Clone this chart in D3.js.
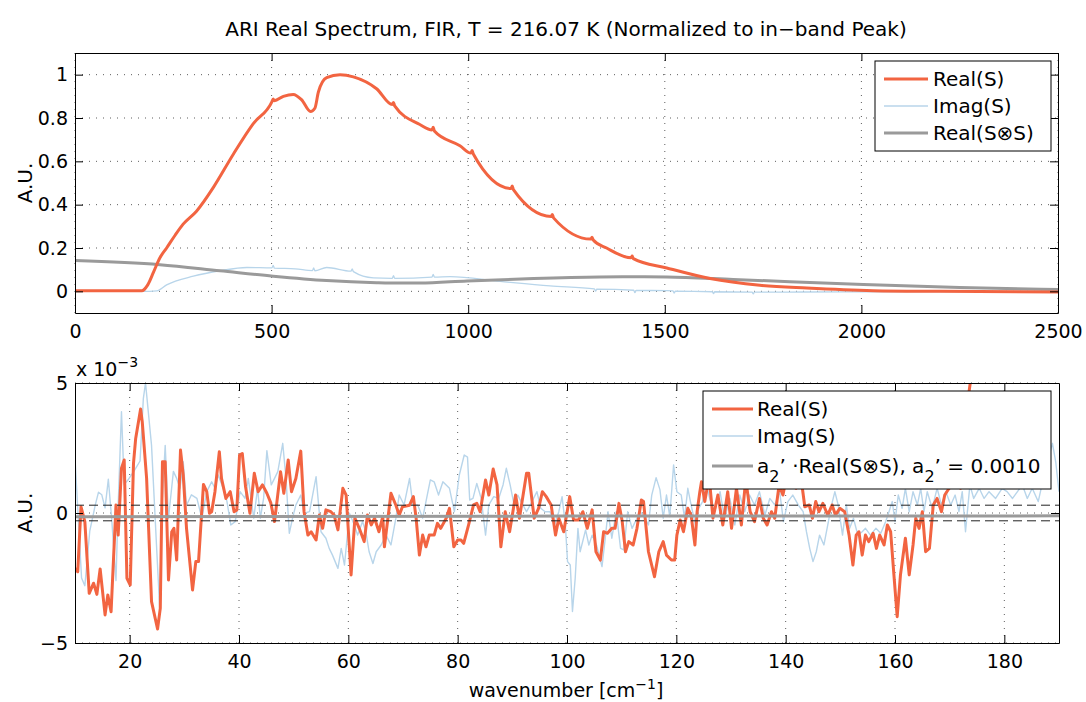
<!DOCTYPE html>
<html>
<head>
<meta charset="utf-8">
<script src="https://cdn.jsdelivr.net/npm/d3@7"></script>
<style>
body { margin: 0; background: #fff; }
svg text { font-family: "DejaVu Sans", Arial, sans-serif; fill: #000; }
</style>
</head>
<body>
<svg width="1086" height="702"></svg>
<script>
// top panel, normalized spectrum (x = wavenumber cm-1)
var topRealWn = [0, 100, 170, 185, 200, 216, 233, 255, 275, 309, 352, 403, 453, 501, 504, 507, 530, 555, 576, 599, 610, 619, 640, 674, 708, 767, 807, 810, 813, 877, 908, 911, 914, 979, 1007, 1010, 1013, 1109, 1112, 1115, 1211, 1214, 1217, 1312, 1315, 1318, 1352, 1414, 1417, 1420, 1505, 1615, 1742, 1861, 2030, 2200, 2500];
var topRealVal = [0.003, 0.003, 0.003, 0.03, 0.09, 0.155, 0.2, 0.26, 0.31, 0.37, 0.48, 0.634, 0.773, 0.876, 0.888, 0.88, 0.9, 0.909, 0.885, 0.83, 0.845, 0.92, 0.986, 1.0, 0.99, 0.935, 0.862, 0.872, 0.856, 0.77, 0.745, 0.757, 0.74, 0.672, 0.638, 0.65, 0.634, 0.475, 0.486, 0.469, 0.345, 0.355, 0.339, 0.241, 0.25, 0.237, 0.2, 0.155, 0.163, 0.151, 0.108, 0.059, 0.028, 0.015, 0.003, 0.0, -0.003];

var topImagWn = [0, 190, 208, 233, 301, 369, 437, 501, 504, 507, 560, 604, 607, 610, 640, 702, 705, 708, 759, 807, 810, 813, 908, 911, 914, 954, 1081, 1208, 1321, 1324, 1327, 1421, 1424, 1427, 1505, 1521, 1524, 1527, 1621, 1624, 1627, 1722, 1725, 1728, 1850, 2000, 2500];
var topImagVal = [0, 0, 0.002, 0.03, 0.07, 0.095, 0.11, 0.108, 0.12, 0.107, 0.104, 0.096, 0.108, 0.095, 0.11, 0.093, 0.104, 0.091, 0.062, 0.06, 0.072, 0.06, 0.066, 0.078, 0.066, 0.068, 0.046, 0.025, 0.011, 0.001, 0.01, 0.005, -0.006, 0.004, 0.003, 0.002, -0.008, 0.001, -0.002, -0.01, -0.002, -0.004, -0.012, -0.004, -0.003, -0.002, 0.0];

var topConvWn = [0, 216, 369, 504, 640, 767, 827, 877, 997, 1166, 1335, 1420, 1505, 1674, 2005, 2250, 2500];
var topConvVal = [0.142, 0.123, 0.095, 0.07, 0.05, 0.04, 0.038, 0.038, 0.048, 0.059, 0.066, 0.067, 0.066, 0.055, 0.031, 0.018, 0.008];

// bottom panel, residuals in units of 1e-3
var botRealWn = [10.0, 10.5, 11.1, 11.8, 12.6, 13.4, 14.0, 14.6, 15.5, 16.0, 16.6, 17.5, 17.9, 18.5, 19.0, 19.5, 20.1, 20.7, 21.1, 22.0, 22.3, 23.1, 24.0, 25.1, 25.6, 26.0, 26.5, 27.1, 27.7, 28.1, 28.6, 29.3, 29.8, 30.4, 31.5, 32.1, 32.6, 33.5, 34.1, 34.6, 35.0, 35.6, 36.4, 36.8, 37.6, 38.4, 39.1, 39.6, 40.1, 40.6, 41.2, 42.0, 42.8, 43.5, 44.3, 45.1, 45.8, 46.5, 47.6, 48.2, 49.0, 49.6, 50.4, 51.3, 51.9, 52.6, 53.2, 54.1, 54.7, 55.3, 55.9, 56.8, 57.4, 58.1, 59.0, 59.6, 60.5, 61.2, 62.0, 62.9, 63.5, 64.2, 64.8, 65.6, 66.3, 66.6, 67.8, 68.7, 69.3, 69.9, 71.2, 71.9, 72.4, 73.0, 73.6, 74.2, 74.8, 75.7, 76.3, 76.9, 77.9, 78.5, 79.3, 80.0, 80.6, 81.1, 82.0, 82.9, 83.5, 84.1, 85.1, 85.7, 86.5, 87.2, 87.9, 88.7, 89.5, 90.6, 91.3, 92.6, 93.0, 94.0, 94.8, 95.5, 96.2, 97.1, 97.9, 98.5, 99.4, 100.5, 101.2, 102.1, 102.9, 103.7, 104.6, 105.3, 106.1, 106.7, 107.4, 108.2, 108.8, 109.5, 110.1, 110.7, 111.3, 112.1, 112.8, 113.6, 114.0, 114.9, 116.0, 116.8, 117.6, 118.2, 119.1, 119.7, 120.1, 120.7, 121.3, 122.1, 122.7, 123.4, 123.8, 124.3, 124.6, 125.2, 126.0, 126.7, 127.6, 128.5, 129.4, 130.1, 131.0, 131.9, 132.7, 133.5, 134.3, 135.2, 135.9, 136.6, 137.4, 138.0, 138.8, 139.5, 140.1, 141.0, 141.9, 142.9, 143.5, 144.3, 144.9, 145.5, 146.1, 146.8, 147.7, 148.5, 149.1, 149.9, 150.8, 151.6, 152.3, 152.9, 153.4, 154.0, 154.6, 155.2, 156.0, 156.6, 157.2, 158.0, 158.6, 159.2, 159.8, 160.4, 161.0, 161.9, 162.6, 163.3, 163.8, 164.4, 165.0, 165.6, 166.3, 167.0, 167.7, 168.5, 169.1, 169.9, 170.6, 171.4, 172.0, 172.6, 173.2, 173.8, 174.6];
var botRealVal = [-2.13, -2.26, 0.24, -0.33, -3.09, -2.7, -3.13, -2.15, -3.92, -3.15, -3.8, 0.31, -0.85, 1.72, 2.04, -2.51, -2.77, 1.91, 2.87, 4.0, 3.51, 1.33, -3.41, -4.46, -3.67, 1.97, 1.97, -2.58, -0.72, -0.59, -1.81, 2.42, 1.46, -0.59, -2.96, -1.87, -1.87, 1.1, 0.82, -0.01, 0.05, 0.82, 2.36, 1.33, 0.56, 0.82, 0.05, 0.12, 2.23, 2.29, 1.01, -0.01, 1.53, 0.82, 1.08, 0.76, 0.4, -0.33, 1.59, 0.76, 2.04, 0.82, 1.33, 2.38, 0.05, -0.85, -0.72, -1.04, -0.08, -0.59, 0.12, 0.05, -0.08, -0.65, 0.95, 0.69, -2.38, -0.2, -0.59, -1.1, -0.08, -0.46, -0.2, -0.72, -0.14, -1.3, 0.76, 0.3, -0.08, 0.24, 0.3, 0.63, -0.2, -1.62, -0.85, -1.3, -0.85, -0.85, -0.4, -0.59, -0.2, 0.18, -1.3, -1.04, -1.04, -1.17, -0.46, 0.31, 0.37, 0.05, 1.27, 0.69, 1.69, 1.08, -1.3, 0.05, -0.72, 0.69, -0.2, 1.53, 1.53, -0.2, 0.18, 0.82, 0.63, 0.31, -0.85, -0.2, -0.72, 0.63, -0.27, -0.27, 0.05, -0.59, 0.12, -1.49, -1.81, -0.72, -0.78, -0.59, -0.59, 0.37, -0.33, -1.49, -1.1, -1.23, -0.59, 0.5, 0.44, -1.49, -2.45, -1.49, -1.1, -1.62, -1.81, -1.81, -0.85, -0.27, -0.72, 0.18, -0.08, -1.23, 0.05, 0.82, 1.2, 0.44, 1.4, -0.2, 0.69, -0.46, 0.82, -0.59, 0.95, -0.46, 1.3, 0.05, -0.33, 0.56, -0.2, -0.46, 0.05, -0.2, 1.08, 0.69, 1.33, 1.08, 0.95, 1.2, 0.24, 0.31, -0.2, 0.44, 0.05, 0.37, -0.08, 0.31, -0.08, 0.18, 0.05, -0.85, -2.0, -0.85, -0.72, -1.62, -0.85, -1.1, -0.78, -1.36, -0.85, -1.23, -0.46, -0.72, -2.38, -3.99, -2.38, -0.97, -2.38, -1.23, -0.2, -0.59, 0.05, -1.49, -1.36, 0.31, 0.56, 0.05, 0.69, 0.95, 1.08, 1.6, 0.95, 2.0, 4.15, 5.05, 6.2];

var botImagWn = [10.0, 10.6, 11.2, 11.8, 12.7, 13.7, 14.3, 14.9, 15.5, 16.1, 16.7, 17.5, 17.9, 18.5, 19.0, 19.8, 20.9, 21.9, 22.5, 22.9, 24.0, 24.9, 25.5, 25.9, 26.5, 27.1, 28.0, 28.6, 29.2, 29.8, 30.4, 31.3, 32.3, 33.2, 34.1, 35.0, 35.6, 36.2, 37.1, 37.8, 38.5, 39.3, 40.2, 41.1, 41.7, 42.7, 43.4, 43.9, 44.5, 45.1, 45.9, 46.5, 47.1, 48.0, 48.6, 49.2, 49.8, 50.4, 51.3, 51.9, 52.9, 54.1, 55.0, 55.9, 56.5, 57.1, 58.1, 58.7, 59.3, 60.2, 61.1, 61.7, 62.6, 63.2, 63.8, 64.5, 65.1, 66.0, 66.9, 67.8, 68.7, 69.3, 70.2, 71.2, 71.8, 72.7, 73.6, 74.2, 75.0, 75.7, 76.5, 77.3, 78.5, 79.4, 80.3, 81.2, 81.8, 82.2, 82.8, 83.5, 84.3, 85.1, 85.7, 86.6, 87.5, 88.3, 88.9, 89.6, 90.2, 91.0, 91.6, 92.6, 93.6, 94.5, 95.2, 96.0, 96.9, 97.7, 98.5, 99.1, 99.7, 100.1, 100.6, 101.0, 101.5, 102.0, 102.4, 103.4, 104.0, 104.6, 105.4, 106.4, 107.0, 107.5, 108.2, 109.0, 109.8, 110.4, 111.1, 111.9, 112.5, 113.4, 114.3, 114.9, 115.5, 116.3, 117.0, 117.6, 118.2, 118.8, 119.5, 120.1, 120.9, 121.5, 122.1, 122.7, 123.5, 124.1, 124.8, 125.4, 126.1, 127.0, 128.0, 128.8, 129.8, 130.7, 131.6, 132.5, 133.4, 134.3, 135.2, 136.2, 137.1, 138.0, 138.9, 139.6, 140.4, 141.3, 142.3, 143.2, 143.8, 144.4, 145.0, 145.6, 146.2, 147.0, 147.7, 148.4, 149.0, 149.6, 150.4, 151.1, 151.7, 152.4, 153.2, 154.0, 154.6, 155.5, 156.5, 157.4, 158.3, 158.9, 159.5, 160.0, 160.6, 161.3, 161.9, 162.6, 163.3, 164.1, 164.7, 165.3, 165.9, 166.8, 167.7, 168.5, 169.3, 170.2, 171.0, 171.7, 172.3, 172.9, 173.7, 174.4, 175.4, 176.3, 177.2, 178.4, 179.6, 180.5, 181.5, 182.4, 183.3, 184.2, 185.1, 186.2, 187.0, 187.9, 188.8, 189.4, 190.0];
var botImagVal = [2.1, -0.2, -2.5, -2.8, -0.7, 0.3, 0.8, 0.7, 0.2, 1.3, -0.2, -2.6, 0.3, 3.9, 1.1, 1.3, 1.65, 2.0, 4.4, 5.0, 2.6, -1.2, -3.7, 0.3, 2.6, -0.2, 1.6, 1.33, 0.95, 1.97, 0.3, 0.7, 0.56, -0.2, 0.82, 1.2, 0.95, 1.46, 0.95, 0.44, -0.46, -0.33, 0.82, 0.56, 1.33, -0.2, 0.95, -0.2, 0.56, 2.4, 1.08, 1.33, 1.59, 2.68, 1.33, -0.78, -0.2, 0.31, 0.69, -0.01, 0.05, 1.4, -0.72, -0.97, -1.36, -1.62, -2.13, -1.36, -2.0, -0.01, -0.46, -0.85, -0.33, -0.72, -1.49, -1.94, -1.49, -1.23, -0.85, -1.23, -0.2, 0.69, 0.31, 1.33, 0.31, 0.31, -0.2, 0.44, 1.27, 1.2, 0.69, 1.2, 0.95, 0.05, 1.46, 2.23, 2.15, 0.5, 0.56, 1.14, 0.56, -0.85, 0.31, 0.63, 0.56, 1.08, 1.72, 1.08, 0.44, 0.69, 0.44, 0.05, 0.44, 0.82, 0.18, 0.05, 0.05, -0.46, 0.05, 0.63, -0.46, -1.87, -2.0, -3.79, -2.51, -0.59, -1.49, -0.65, -1.23, -0.85, -1.23, -2.06, -0.97, 0.05, -0.97, 0.05, -1.36, -1.42, 0.05, -0.59, -0.33, 0.05, -0.2, -0.46, 0.69, 1.36, 0.9, -0.2, 0.69, -0.14, 1.85, 0.82, 0.69, -0.2, 0.95, 0.31, -0.46, 0.18, 0.44, 1.2, 0.56, 0.05, 0.82, -0.2, 0.56, -0.46, 0.69, 0.05, 0.69, 0.31, 0.82, -0.08, 0.56, 0.31, 0.82, -0.33, 0.44, 0.69, 0.31, 0.05, -0.72, -1.36, -1.87, -1.49, -0.85, -1.23, -0.46, 0.31, 0.82, 0.31, -0.85, 0.31, -0.59, -0.2, -0.85, -0.72, -0.59, -0.85, -0.59, -0.78, -0.33, 0.05, 0.44, -0.33, 0.69, 0.18, 0.95, 0.05, 0.82, 0.31, 0.95, 0.05, 0.82, 0.18, 0.95, 0.31, 0.82, 0.31, 0.69, 0.05, 0.82, -0.72, 1.08, 0.56, 0.95, 0.56, 0.82, 0.56, 0.95, 0.82, 0.56, 0.82, 1.08, 0.56, 0.95, 0.44, 1.2, 1.97, 2.68, 1.97, 0.82];

var botConvWn = [10, 100, 190];
var botConvVal = [-0.14, -0.12, -0.11];

var bandLevels = [0.3, -0.3];

var topXTicks = [0, 500, 1000, 1500, 2000, 2500];
var topYTicks = [0, 0.2, 0.4, 0.6, 0.8, 1];
var botXTicks = [20, 40, 60, 80, 100, 120, 140, 160, 180];
var botYTicks = [-5, 0, 5];

var topLegend = ['Real(S)', 'Imag(S)', 'Real(S\u2297S)'];

var realColor = '#F26441', imagColor = '#B8D5EA', convColor = '#9A9A9A';

var svg = d3.select('svg');
svg.append('rect').attr('width', 1086).attr('height', 702).attr('fill', '#fff');

var xTop = d3.scaleLinear().domain([0, 2500]).range([75, 1058]);
var yTop = d3.scaleLinear().domain([-0.1, 1.1]).range([313, 53]);
var xBot = d3.scaleLinear().domain([10, 190]).range([75, 1059]);
var yBot = d3.scaleLinear().domain([-5, 5]).range([643, 383]);

function numFmt(d) {
  var s = String(+d.toFixed(2));
  return d < 0 ? '\u2212' + s.slice(1) : s;
}

function grid(x, y, xTicks, yTicks) {
  var g = svg.append('g').attr('stroke', '#333').attr('stroke-width', 0.8).attr('stroke-dasharray', '1,6');
  g.selectAll('.v').data(xTicks).enter().append('line')
    .attr('x1', x).attr('x2', x).attr('y1', y.range()[1]).attr('y2', y.range()[0]);
  g.selectAll('.h').data(yTicks).enter().append('line')
    .attr('y1', y).attr('y2', y).attr('x1', x.range()[0]).attr('x2', x.range()[1]);
}

function clip(id, x, y) {
  svg.append('clipPath').attr('id', id).append('rect')
    .attr('x', x.range()[0]).attr('y', y.range()[1])
    .attr('width', x.range()[1] - x.range()[0]).attr('height', y.range()[0] - y.range()[1]);
}

function series(x, y, wn, val, color, width, curve, clipId) {
  var line = d3.line()
    .x(function(d) { return x(d[0]); })
    .y(function(d) { return y(d[1]); })
    .curve(curve);
  svg.append('path')
    .attr('clip-path', 'url(#' + clipId + ')')
    .attr('d', line(d3.zip(wn, val)))
    .attr('fill', 'none')
    .attr('stroke', color)
    .attr('stroke-width', width)
    .attr('stroke-linejoin', 'round');
}

function styleAxis(g) {
  g.attr('font-family', null).attr('font-size', null);
  g.selectAll('.domain').attr('stroke', '#000').attr('stroke-width', 1);
  g.selectAll('.tick line').attr('stroke', '#000');
  g.selectAll('.tick text').attr('font-size', 19).attr('fill', '#000');
}

function axes(x, y, xTicks, yTicks) {
  var l = x.range()[0], r = x.range()[1], t = y.range()[1], b = y.range()[0];
  svg.append('g').attr('transform', 'translate(0,' + b + ')')
    .call(d3.axisBottom(x).tickValues(xTicks).tickSizeInner(-8).tickSizeOuter(0).tickPadding(12).tickFormat(numFmt))
    .call(styleAxis);
  svg.append('g').attr('transform', 'translate(0,' + t + ')')
    .call(d3.axisTop(x).tickValues(xTicks).tickSizeInner(-8).tickSizeOuter(0).tickFormat(''))
    .call(styleAxis);
  svg.append('g').attr('transform', 'translate(' + l + ',0)')
    .call(d3.axisLeft(y).tickValues(yTicks).tickSizeInner(-8).tickSizeOuter(0).tickPadding(7).tickFormat(numFmt))
    .call(styleAxis);
  svg.append('g').attr('transform', 'translate(' + r + ',0)')
    .call(d3.axisRight(y).tickValues(yTicks).tickSizeInner(-8).tickSizeOuter(0).tickFormat(''))
    .call(styleAxis);
}

function legendBox(x0, y0, w, h, rows, lineX0, lineX1, textX) {
  svg.append('rect').attr('x', x0).attr('y', y0).attr('width', w).attr('height', h)
    .attr('fill', '#fff').attr('stroke', '#000').attr('stroke-width', 1);
  rows.forEach(function(r) {
    svg.append('line').attr('x1', lineX0).attr('x2', lineX1).attr('y1', r.y).attr('y2', r.y)
      .attr('stroke', r.color).attr('stroke-width', r.width);
    var t = svg.append('text').attr('x', textX).attr('y', r.y + 7).attr('font-size', 20);
    r.parts.forEach(function(p) {
      var s = t.append('tspan').text(p.text);
      if (p.sub) s.attr('font-size', 16).attr('dy', 9);
      if (p.after) s.attr('dy', -9);
    });
  });
}

// ---- top panel
clip('clipTop', xTop, yTop);
grid(xTop, yTop, topXTicks, topYTicks);
series(xTop, yTop, topImagWn, topImagVal, imagColor, 1.3, d3.curveMonotoneX, 'clipTop');
series(xTop, yTop, topConvWn, topConvVal, convColor, 3, d3.curveMonotoneX, 'clipTop');
series(xTop, yTop, topRealWn, topRealVal, realColor, 3, d3.curveMonotoneX, 'clipTop');
axes(xTop, yTop, topXTicks, topYTicks);

legendBox(875, 61, 176, 90, [
  {y: 79, color: realColor, width: 3, parts: [{text: topLegend[0]}]},
  {y: 106, color: imagColor, width: 1.5, parts: [{text: topLegend[1]}]},
  {y: 133, color: convColor, width: 3, parts: [{text: topLegend[2]}]}
], 884, 928, 933);

// ---- bottom panel
clip('clipBot', xBot, yBot);
grid(xBot, yBot, botXTicks, botYTicks);
series(xBot, yBot, botImagWn, botImagVal, imagColor, 1.4, d3.curveLinear, 'clipBot');
series(xBot, yBot, botRealWn, botRealVal, realColor, 3, d3.curveLinear, 'clipBot');
series(xBot, yBot, botConvWn, botConvVal, convColor, 3, d3.curveLinear, 'clipBot');

svg.append('g').selectAll('line').data(bandLevels).enter().append('line')
  .attr('x1', xBot.range()[0]).attr('x2', xBot.range()[1])
  .attr('y1', yBot).attr('y2', yBot)
  .attr('stroke', '#222').attr('stroke-width', 1).attr('stroke-dasharray', '9,5');

axes(xBot, yBot, botXTicks, botYTicks);

legendBox(703, 391, 348, 98, [
  {y: 409, color: realColor, width: 3, parts: [{text: 'Real(S)'}]},
  {y: 436, color: imagColor, width: 1.5, parts: [{text: 'Imag(S)'}]},
  {y: 466, color: convColor, width: 3, parts: [
    {text: 'a'}, {text: '2', sub: true}, {text: '\u2019 \u00b7Real(S\u2297S), a', after: true},
    {text: '2', sub: true}, {text: '\u2019 = 0.0010', after: true}]}
], 712, 753, 757);

// ---- labels
svg.append('text').attr('x', 566).attr('y', 36).attr('text-anchor', 'middle').attr('font-size', 20)
  .text('ARI Real Spectrum, FIR, T = 216.07 K (Normalized to in\u2212band Peak)');

svg.append('text').attr('transform', 'translate(32,183) rotate(-90)').attr('text-anchor', 'middle')
  .attr('font-size', 20).text('A.U.');
svg.append('text').attr('transform', 'translate(32,513) rotate(-90)').attr('text-anchor', 'middle')
  .attr('font-size', 20).text('A.U.');

var mult = svg.append('text').attr('x', 76).attr('y', 376).attr('font-size', 19);
mult.append('tspan').text('x 10');
mult.append('tspan').attr('font-size', 14).attr('dy', -9).text('\u22123');

var xl = svg.append('text').attr('x', 566).attr('y', 697).attr('text-anchor', 'middle').attr('font-size', 19);
xl.append('tspan').text('wavenumber [cm');
xl.append('tspan').attr('font-size', 14).attr('dy', -8).text('\u22121');
xl.append('tspan').attr('dy', 8).text(']');
</script>
</body>
</html>
